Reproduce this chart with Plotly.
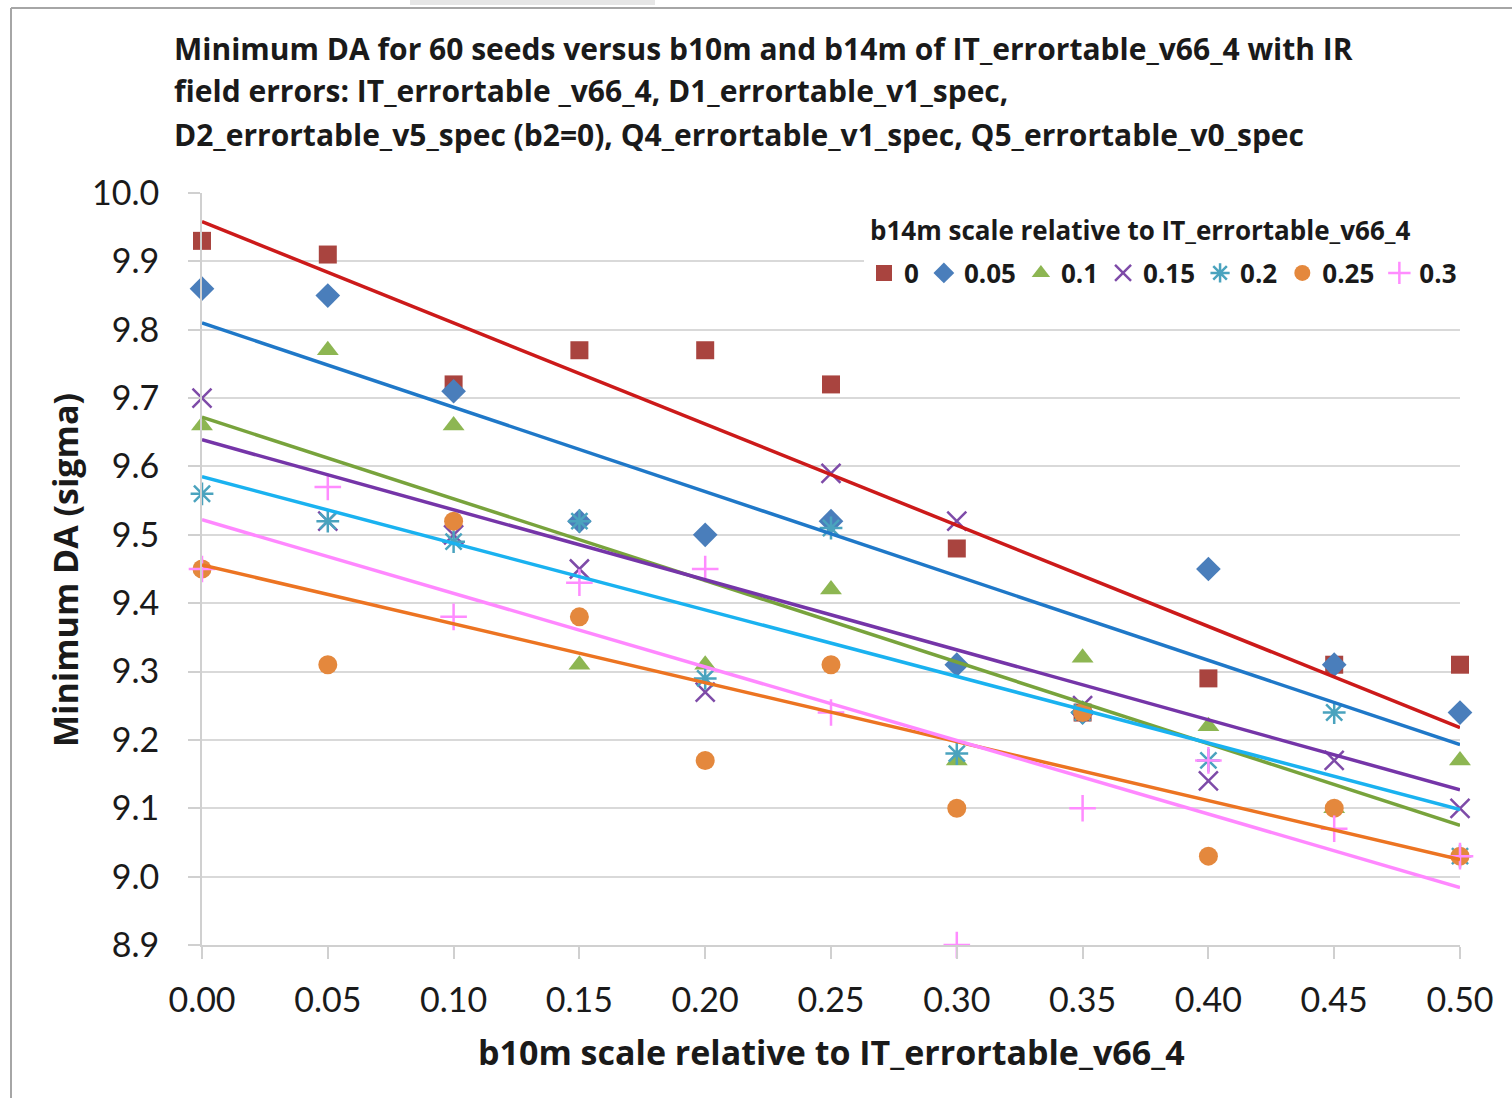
import plotly.graph_objects as go

# ---------------- data ----------------
b10m = [0.00, 0.05, 0.10, 0.15, 0.20, 0.25, 0.30, 0.35, 0.40, 0.45, 0.50]
series_names = ["0", "0.05", "0.1", "0.15", "0.2", "0.25", "0.3"]

da_0 = [9.93, 9.91, 9.72, 9.77, 9.77, 9.72, 9.48, 9.24, 9.29, 9.31, 9.31]
da_005 = [9.86, 9.85, 9.71, 9.52, 9.50, 9.52, 9.31, 9.24, 9.45, 9.31, 9.24]
da_01 = [9.66, 9.77, 9.66, 9.31, 9.31, 9.42, 9.17, 9.32, 9.22, 9.10, 9.17]
da_015 = [9.70, 9.52, 9.50, 9.45, 9.27, 9.59, 9.52, 9.25, 9.14, 9.17, 9.10]
da_02 = [9.56, 9.52, 9.49, 9.52, 9.29, 9.51, 9.18, 9.24, 9.17, 9.24, 9.03]
da_025 = [9.45, 9.31, 9.52, 9.38, 9.17, 9.31, 9.10, 9.24, 9.03, 9.10, 9.03]
da_03 = [9.45, 9.57, 9.38, 9.43, 9.45, 9.24, 8.90, 9.10, 9.17, 9.07, 9.03]

# linear trendlines (value at b10m=0 and b10m=0.5)
trend_x = [0.0, 0.5]
trend_start = [9.958, 9.810, 9.672, 9.639, 9.585, 9.456, 9.522]
trend_end = [9.218, 9.193, 9.075, 9.127, 9.098, 9.025, 8.984]

y_ticks = [8.9, 9.0, 9.1, 9.2, 9.3, 9.4, 9.5, 9.6, 9.7, 9.8, 9.9, 10.0]
x_ticks = [0.00, 0.05, 0.10, 0.15, 0.20, 0.25, 0.30, 0.35, 0.40, 0.45, 0.50]

title_lines = [
    "Minimum DA for 60 seeds versus b10m and b14m of IT_errortable_v66_4 with IR",
    "field errors: IT_errortable _v66_4, D1_errortable_v1_spec,",
    "D2_errortable_v5_spec (b2=0), Q4_errortable_v1_spec, Q5_errortable_v0_spec",
]
legend_title = "b14m scale relative to IT_errortable_v66_4"
x_title = "b10m scale relative to IT_errortable_v66_4"
y_title = "Minimum DA (sigma)"

# ---------------- styles ----------------
all_series = [da_0, da_005, da_01, da_015, da_02, da_025, da_03]
marker_colors = ["#A9443F", "#4A7EBB", "#8DB652", "#7E4BA8", "#4AA3BE", "#E4883D", "#FF8CFF"]
marker_symbols = ["square", "diamond", "triangle-up", "x-thin-open", "asterisk-open",
                  "circle", "cross-thin-open"]
marker_sizes = [18, 19, 19, 19, 19, 19, 19]
line_colors = ["#CC1A1A", "#1F78C8", "#78A33C", "#7535A8", "#1AB2F0", "#EC7422", "#FF88FF"]

FONT = "Lato"
BFONT = "Open Sans"

W, H = 1512, 1098
L, R, T, B = 202, 52, 193, 153
pw, ph = W - L - R, H - T - B


def px(x):
    return (x - L) / pw


def py(y):
    return (H - B - y) / ph


fig = go.Figure()

for i, (name, vals) in enumerate(zip(series_names, all_series)):
    sym = marker_symbols[i]
    thin = sym.endswith("open")
    fig.add_trace(go.Scatter(
        x=b10m, y=vals, mode="markers", name=name,
        cliponaxis=False,
        marker=dict(
            symbol=sym, size=marker_sizes[i],
            color=marker_colors[i],
            line=dict(width=2.5 if thin else 0, color=marker_colors[i]),
        ),
    ))

for i in range(len(series_names)):
    fig.add_trace(go.Scatter(
        x=trend_x, y=[trend_start[i], trend_end[i]], mode="lines",
        line=dict(color=line_colors[i], width=3.5),
        showlegend=False, hoverinfo="skip",
    ))

# title lines
for k, line in enumerate(title_lines):
    fig.add_annotation(
        text=line, xref="paper", yref="paper", x=px(172), y=py(48 + 43 * k),
        xanchor="left", yanchor="middle", showarrow=False,
        font=dict(family=BFONT, size=30, color="#1a1a1a", weight="bold"),
    )

fig.add_annotation(
    text=x_title, xref="paper", yref="paper", x=0.5, y=py(1052),
    xanchor="center", yanchor="middle", showarrow=False,
    font=dict(family=BFONT, size=34, color="#1a1a1a", weight="bold"),
)
fig.add_annotation(
    text=y_title, xref="paper", yref="paper", x=px(65), y=py(570),
    xanchor="center", yanchor="middle", showarrow=False, textangle=-90,
    font=dict(family=BFONT, size=34, color="#1a1a1a", weight="bold"),
)
fig.add_annotation(
    text=legend_title, xref="paper", yref="paper", x=px(1140), y=py(230),
    xanchor="center", yanchor="middle", showarrow=False,
    font=dict(family=BFONT, size=26, color="#1a1a1a", weight="bold"),
)

# frame of the screenshot
fig.add_shape(type="line", xref="paper", yref="paper", x0=px(11), x1=px(1512),
              y0=py(8), y1=py(8), line=dict(color="#A6A6A6", width=2))
fig.add_shape(type="line", xref="paper", yref="paper", x0=px(11), x1=px(11),
              y0=py(8), y1=py(1098), line=dict(color="#A6A6A6", width=2))
fig.add_shape(type="rect", xref="paper", yref="paper", x0=px(410), x1=px(655),
              y0=py(0), y1=py(5), line=dict(width=0), fillcolor="#E6E6E6")

fig.update_layout(
    width=W, height=H,
    margin=dict(l=L, r=R, t=T, b=B, autoexpand=False),
    paper_bgcolor="white", plot_bgcolor="white",
    font=dict(family=FONT, color="#1a1a1a"),
    showlegend=True,
    legend=dict(
        orientation="h", x=px(1462), xanchor="right", y=py(273), yanchor="middle",
        bgcolor="white",
        font=dict(family=BFONT, size=26, color="#1a1a1a", weight="bold"),
        itemwidth=30, tracegroupgap=0,
    ),
    xaxis=dict(
        range=[0, 0.5], tickmode="array", tickvals=x_ticks,
        ticktext=[f"{v:.2f}" for v in x_ticks],
        showgrid=False, zeroline=False,
        showline=True, linecolor="#D0D0D0", linewidth=2,
        ticks="outside", ticklen=12, tickwidth=2, tickcolor="#D0D0D0",
        ticklabelstandoff=12,
        tickfont=dict(family=FONT, size=34, color="#1a1a1a"),
    ),
    yaxis=dict(
        range=[8.9, 10.0], tickmode="array", tickvals=y_ticks,
        ticktext=[f"{v:.1f}" for v in y_ticks],
        showgrid=True, gridcolor="#D9D9D9", gridwidth=2, zeroline=False,
        showline=True, linecolor="#D0D0D0", linewidth=2,
        ticks="outside", ticklen=12, tickwidth=2, tickcolor="#D0D0D0",
        ticklabelstandoff=22,
        tickfont=dict(family=FONT, size=34, color="#1a1a1a"),
    ),
)

fig.write_html("out.html")
